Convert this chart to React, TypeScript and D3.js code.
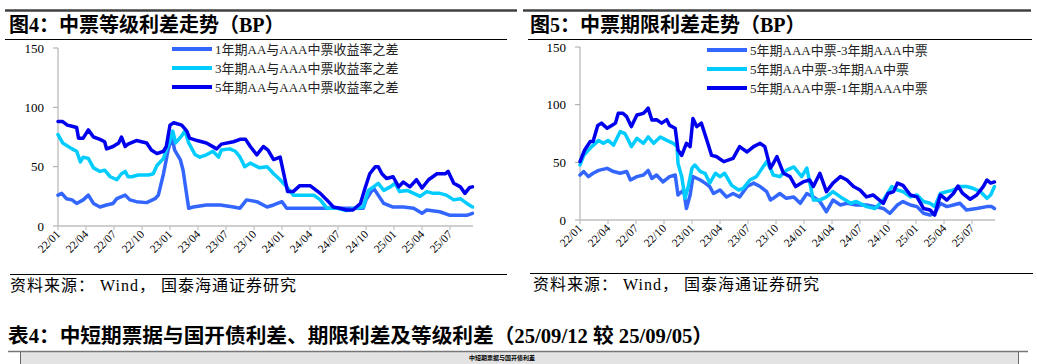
import React from 'react';
import * as d3 from 'd3';

// ---------- DATA ----------
// x: months since 2022-01 ; y: BP
const tickMonths = [0, 3, 6, 9, 12, 15, 18, 21, 24, 27, 30, 33, 36, 39, 42];
const tickLabels = ['22/01', '22/04', '22/07', '22/10', '23/01', '23/04', '23/07', '23/10', '24/01', '24/04', '24/07', '24/10', '25/01', '25/04', '25/07'];
const yTicks = [0, 50, 100, 150];

const legendLeft = ['1年期AA与AAA中票收益率之差', '3年期AA与AAA中票收益率之差', '5年期AA与AAA中票收益率之差'];
const legendRight = ['5年期AAA中票-3年期AAA中票', '5年期AA中票-3年期AA中票', '5年期AAA中票-1年期AAA中票'];

const grade1Y: [number, number][] = [[0,26],[0.4,27.5],[0.9,23],[1.5,22],[2,19],[2.7,22],[3.25,26],[3.8,19],[4.5,16],[5.2,17.7],[5.9,19],[6.3,23],[7.2,26],[7.7,22],[8.4,20.5],[9.5,19.7],[10.4,23],[10.75,26],[11.3,44],[11.8,64],[12.2,75],[12.5,64],[13.1,56],[13.4,47],[14,15],[14.5,16],[15.9,17.7],[17.4,17.7],[18.8,16],[19.5,15],[20.2,22],[21.3,20.5],[22.4,16],[23.1,17.7],[24,20.5],[24.5,15],[32.7,15],[33,22],[33.8,32],[34.3,26],[34.9,19],[35.9,16],[37,16],[38.1,15],[39,10.7],[39.5,13.5],[40.9,12],[42,9],[43.1,9],[43.8,9],[44.4,10.7]];
const grade3Y: [number, number][] = [[0,77],[0.5,70],[1.5,65],[2,63],[2.4,54],[2.7,58],[3.25,57],[3.8,49],[4.5,46],[5,47],[5.6,41.5],[6.3,39],[6.8,44],[7.2,46],[7.5,41.5],[7.9,41.5],[8.6,43],[9.7,43],[10.2,44],[10.6,51],[11.3,57],[11.6,64],[12,72],[12.3,80],[12.6,70],[13.25,76],[13.6,80],[14,70],[14.7,60],[15.2,58],[15.9,60],[16.6,63],[17.2,58],[17.5,64],[18.4,65],[19,63],[19.5,58],[20,50],[20.6,53],[21.6,49],[22.4,50],[23.1,44],[23.8,39],[24.5,33],[25.2,26],[26.3,26],[27.4,26],[28.1,22],[28.8,15],[29.9,15],[30.9,13],[31.8,15],[32.7,16],[33.25,30],[33.8,33],[34.3,36],[34.9,30],[35.6,33],[36.1,36],[36.6,29],[37.4,30],[38.1,27.5],[38.8,25],[39.5,29],[40.2,27.5],[40.9,27.5],[41.6,26],[42.4,22],[43.1,23],[43.8,19],[44.4,16]];
const grade5Y: [number, number][] = [[0,88],[0.5,88],[1,85],[1.5,84],[2,83],[2.2,74],[2.7,74],[3.25,81],[3.8,75],[4.5,73],[5,71],[5.2,65],[5.9,67],[6.5,70],[6.8,75],[7.2,67],[7.5,69],[8.4,72],[9.5,70],[10,64],[10.6,61],[11.3,63],[11.6,67],[12,85],[12.4,87],[13.25,85],[13.8,80],[14.1,74],[14.9,72],[15.9,70],[17,65],[17.5,69],[18.8,71],[19.5,73],[20.1,73],[20.6,67],[21.3,60],[22,67],[22.5,64],[23.1,56],[23.8,58],[24.6,29],[25.2,29],[25.9,34],[27,34],[28.1,27.5],[28.8,22],[29.5,16],[30.2,15],[30.9,13.5],[31.6,13.5],[32.4,19],[32.9,32],[33.4,44],[34,50],[34.3,50],[34.7,44],[35.2,40],[35.9,41.5],[36.5,33],[37,37],[37.7,33],[38.4,39],[39,32],[39.7,39],[40.6,44],[41.5,44],[41.8,46],[42.4,36],[43.1,33],[43.6,27.5],[44.1,32.5],[44.4,33]];

const term5m3AAA: [number, number][] = [[0,39],[0.4,42],[0.9,37.6],[1.4,40.5],[2,43],[2.9,44.8],[3.6,42],[4.3,40.5],[5,42],[5.4,34.7],[6.1,37.6],[6.8,39],[7.3,43],[7.7,36],[8.2,39],[8.9,33],[9.6,37.6],[10.2,39],[10.5,21.7],[11.1,26],[11.4,10],[11.8,21.7],[12.1,37.6],[12.9,34.7],[13.4,32],[13.9,29],[14.3,23],[15,26],[15.7,20],[16.4,23],[17.1,20],[17.9,29],[18.6,32],[19.3,29],[20,24.6],[20.4,17.3],[20.7,18.8],[21.4,23],[22.1,18.8],[22.9,20],[23.6,14.5],[24.3,23],[25,20],[25.7,16],[26.4,7.2],[27.1,17.3],[27.9,13],[28.6,14.5],[29.6,13],[30.7,13],[31.6,11.6],[32.5,10],[33.2,5.8],[34,13],[34.6,16],[35.4,13],[36.1,11.6],[36.8,5.8],[37.5,4.3],[38,5.8],[38.6,14.5],[39.3,11.6],[40,13],[40.7,14.5],[41.4,8.7],[42.5,10],[43.6,11.6],[44.1,11.6],[44.4,10]];
const term5m3AA: [number, number][] = [[0,47.7],[0.4,56],[1.25,63.6],[2,69],[2.5,66.5],[3,69],[3.6,65],[4.3,76.6],[4.8,75],[5.2,69],[5.5,63.6],[6.1,70.8],[6.8,66.5],[7.3,72],[7.9,66.5],[8.6,72],[9.3,69],[10,66.5],[10.4,63.6],[10.5,49],[10.9,37.6],[11.25,18.8],[11.6,29],[12,45],[12.3,47.7],[12.9,42],[13.4,40.5],[13.9,32],[14.5,40.5],[15,37.6],[15.5,40.5],[16.25,30],[17,26],[17.5,27.5],[18.2,34.7],[18.9,37.6],[19.6,46],[20,50.6],[20.5,43],[20.7,39],[21.4,37.6],[22.1,43],[22.9,46],[23.75,37.6],[24.3,45],[25,17.3],[25.7,17.3],[26.4,20],[27.1,24.6],[27.9,20],[29,14.5],[29.6,16],[30.7,11.6],[31.6,10],[32.5,17.3],[33.4,29],[34,26],[34.6,24.6],[35.4,20],[36.1,21.7],[36.8,16],[37.5,14.5],[38,11.6],[38.6,23],[39.3,24.6],[40,26],[40.7,29],[41.4,29],[42.1,27.5],[42.9,24.6],[43.6,18.8],[44,21.7],[44.4,29]];
const term5m1AAA: [number, number][] = [[0,50.6],[0.5,60.7],[1.1,68],[1.4,68],[1.9,82],[2.3,84],[2.9,79.5],[3.4,82],[3.8,84],[4.1,92.5],[4.6,92.5],[5,89.6],[5.5,81],[6.1,91],[6.8,92.5],[7.1,95],[7.3,97],[7.7,86.7],[8.2,87],[8.75,84],[9.3,87],[9.6,82],[10.2,79.5],[10.5,60.7],[10.9,56],[11.4,66.5],[11.8,63.6],[12.1,88],[12.5,81],[13,84],[13.6,69],[14.1,56],[14.6,55],[15.4,50.6],[16.4,53.5],[17.1,63.6],[17.9,59],[18.6,63.6],[19.3,66.5],[19.8,63.6],[20.4,45],[20.7,49],[21.1,55],[21.8,40.5],[22.5,37.6],[23.1,29],[23.9,33],[24.6,34.7],[25,29],[25.7,40.5],[26.4,24.6],[27.1,32],[27.9,37.6],[28.6,34.7],[29.3,29],[30,26],[30.7,20],[31.4,21.7],[32.5,14.5],[33,23],[33.6,24.6],[34,32],[34.6,30],[35.4,21.7],[36.1,20],[36.8,10],[37.5,8.7],[38,4.3],[38.6,21.7],[39.3,17.3],[40,23],[40.5,29.5],[41,23],[41.8,18],[42.5,21.7],[43.2,29],[43.6,34.7],[44,32],[44.4,33]];

const COLORS = ['#3366ff', '#00ccff', '#0000ee'];
const SERIF = "'Liberation Serif', 'Times New Roman', 'Noto Sans CJK SC', serif";

type ChartProps = {
  x0: number; x1: number; yTop: number; yBottom: number;
  series: [number, number][][];
  legend: string[];
  legendX: number; legendY: number;
};

function Chart({ x0, x1, yTop, yBottom, series, legend, legendX, legendY }: ChartProps) {
  const x = d3.scaleLinear().domain([0, 44.46]).range([x0, x1]);
  const y = d3.scaleLinear().domain([0, 150]).range([yBottom, yTop]);
  const line = d3.line<[number, number]>().x(d => x(d[0])).y(d => y(d[1]));
  return (
    <g>
      <line x1={x0} x2={x0} y1={yTop} y2={yBottom} stroke="#a6a6a6" strokeWidth={1} />
      {yTicks.map(t => (
        <g key={t}>
          <line x1={x0 - 5} x2={x0} y1={y(t)} y2={y(t)} stroke="#a6a6a6" />
          <text x={x0 - 14} y={y(t)} dy="0.35em" textAnchor="end" fontFamily={SERIF} fontSize={13} fill="#000">{t}</text>
        </g>
      ))}
      <line x1={x0} x2={x1} y1={yBottom} y2={yBottom} stroke="#bfbfbf" strokeWidth={1.5} />
      {tickMonths.map((m, i) => (
        <g key={m}>
          <line x1={x(m)} x2={x(m)} y1={yBottom} y2={yBottom + 4} stroke="#bfbfbf" strokeWidth={1.2} />
          <text transform={`translate(${x(m) + 3},${yBottom + 9}) rotate(-45)`} textAnchor="end" fontFamily={SERIF} fontSize={11.5} fill="#000">{tickLabels[i]}</text>
        </g>
      ))}
      {series.map((s, i) => (
        <path key={i} d={line(s) || ''} fill="none" stroke={COLORS[i]} strokeWidth={3.5} strokeLinejoin="round" strokeLinecap="round" />
      ))}
      {legend.map((l, i) => (
        <g key={l}>
          <line x1={legendX} x2={legendX + 40} y1={legendY + i * 19} y2={legendY + i * 19} stroke={COLORS[i]} strokeWidth={4} />
          <text x={legendX + 43} y={legendY + i * 19} dy="0.38em" fontFamily={SERIF} fontSize={13} fill="#222">{l}</text>
        </g>
      ))}
    </g>
  );
}

export default function App() {
  return (
    <svg width={1037} height={364} style={{ position: 'absolute', left: 0, top: 0, background: '#fff' }}>
      <line x1={5} x2={517} y1={10.5} y2={10.5} stroke="#404040" strokeWidth={2.5} />
      <line x1={523} x2={1031} y1={10.5} y2={10.5} stroke="#404040" strokeWidth={2.5} />
      <text x={9} y={32} fontFamily={SERIF} fontWeight="bold" fontSize={20} fill="#000">图4：中票等级利差走势（BP）</text>
      <text x={530} y={32} fontFamily={SERIF} fontWeight="bold" fontSize={20} fill="#000">图5：中票期限利差走势（BP）</text>
      <line x1={5} x2={507} y1={39.5} y2={39.5} stroke="#000" strokeWidth={1} />
      <line x1={528} x2={1032} y1={39.5} y2={39.5} stroke="#000" strokeWidth={1} />

      <Chart x0={58} x1={473} yTop={48} yBottom={226} series={[grade1Y, grade3Y, grade5Y]} legend={legendLeft} legendX={172} legendY={49} />
      <Chart x0={580} x1={995} yTop={47} yBottom={220} series={[term5m3AAA, term5m3AA, term5m1AAA]} legend={legendRight} legendX={707} legendY={50} />

      <line x1={10} x2={507} y1={274.5} y2={274.5} stroke="#000" strokeWidth={1} />
      <line x1={530} x2={1033} y1={273.5} y2={273.5} stroke="#000" strokeWidth={1} />
      <text x={10} y={291} fontFamily={SERIF} fontSize={16} letterSpacing={1} fill="#000" style={{ whiteSpace: 'pre' }}>资料来源： Wind， 国泰海通证券研究</text>
      <text x={533} y={290} fontFamily={SERIF} fontSize={16} letterSpacing={1} fill="#000" style={{ whiteSpace: 'pre' }}>资料来源： Wind， 国泰海通证券研究</text>

      <text x={8} y={343} fontFamily={SERIF} fontWeight="bold" fontSize={20} fill="#000" textLength={705} lengthAdjust="spacingAndGlyphs">表4：中短期票据与国开债利差、期限利差及等级利差（25/09/12 较 25/09/05）</text>
      <rect x={20} y={352} width={998} height={12} fill="#e3e3e3" />
      <line x1={8} x2={1028} y1={351.5} y2={351.5} stroke="#777" strokeWidth={1.5} />
      <line x1={20.5} x2={20.5} y1={352} y2={364} stroke="#666" strokeWidth={1} />
      <line x1={1018.5} x2={1018.5} y1={352} y2={364} stroke="#666" strokeWidth={1} />
      <text x={502} y={360} textAnchor="middle" fontFamily={SERIF} fontWeight="bold" fontSize={6} fill="#000">中短期票据与国开债利差</text>
    </svg>
  );
}
